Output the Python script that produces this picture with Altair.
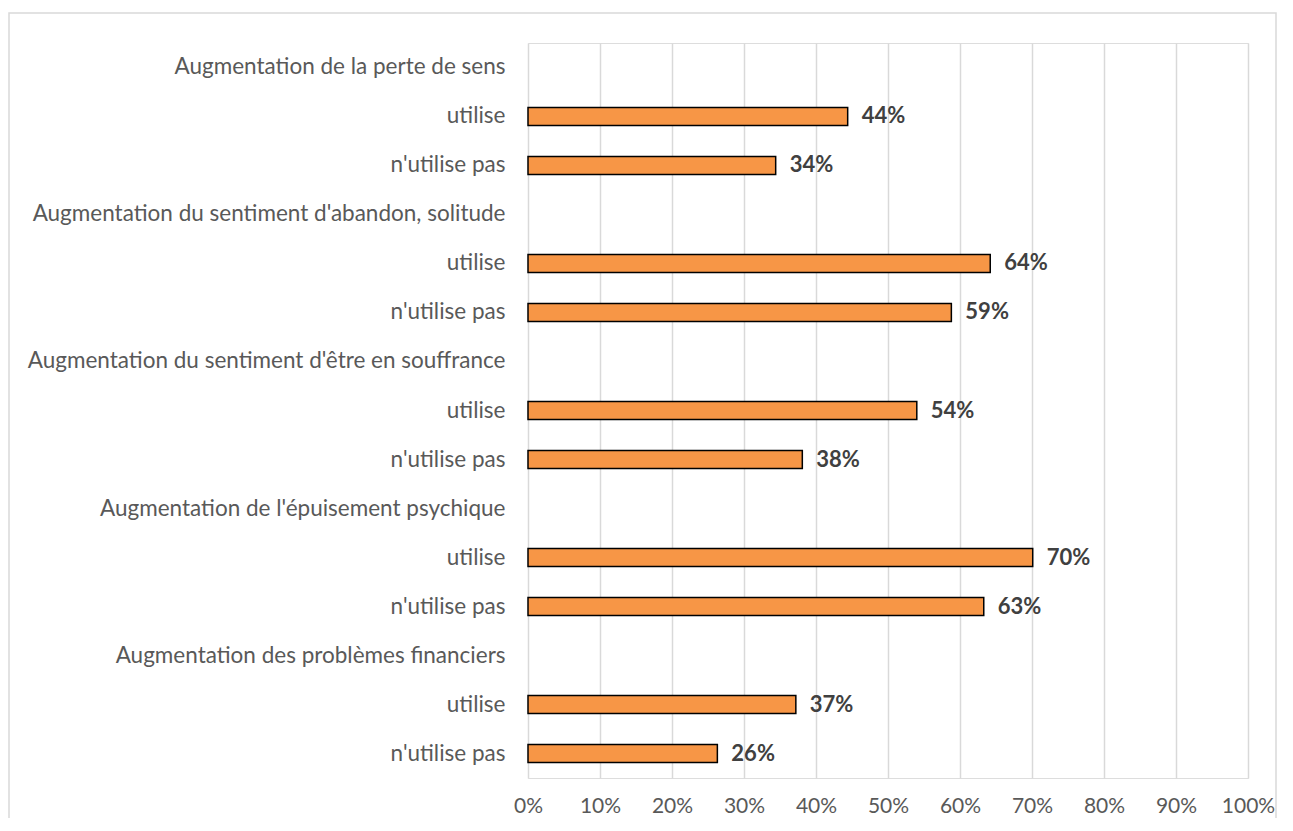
import altair as alt
import pandas as pd

groups = [
    "Augmentation de la perte de sens",
    "Augmentation du sentiment d'abandon, solitude",
    "Augmentation du sentiment d'être en souffrance",
    "Augmentation de l'épuisement psychique",
    "Augmentation des problèmes financiers",
]
subs = ["utilise", "n'utilise pas"]
utilise = [0.444, 0.642, 0.540, 0.701, 0.372]
n_utilise_pas = [0.344, 0.588, 0.381, 0.633, 0.263]
x_ticks = [0, 0.1, 0.2, 0.3, 0.4, 0.5, 0.6, 0.7, 0.8, 0.9, 1.0]

domain = []
rows = []
for i, g in enumerate(groups):
    domain.append(g)
    for s, vals in zip(subs, [utilise, n_utilise_pas]):
        key = f"{s}|{i}"
        domain.append(key)
        rows.append({"key": key, "value": vals[i]})
df = pd.DataFrame(rows)

FONT = "Lato"

y = alt.Y("key:N", scale=alt.Scale(domain=domain, paddingInner=0.633, paddingOuter=0.316),
          axis=alt.Axis(title=None, labelExpr="split(datum.label, '|')[0]", labelFontSize=22.5,
                        labelColor="#595959", labelFont=FONT, labelPadding=23, domain=False,
                        ticks=False, grid=False, labelLimit=700))
x = alt.X("value:Q", scale=alt.Scale(domain=[0, 1], nice=False),
          axis=alt.Axis(title=None, format=".0%", values=x_ticks, labelFontSize=21,
                        labelColor="#595959", labelFont=FONT, labelPadding=17, domain=False,
                        labelFlush=False, ticks=False, grid=True, gridColor="#d9d9d9",
                        gridWidth=1.5))

base = alt.Chart(df)
bars = base.mark_bar(color="#F79646", stroke="black", strokeWidth=1.5, size=18).encode(x=x, y=y)
labels = base.mark_text(align="left", baseline="middle", dx=14, fontSize=22, fontWeight="bold",
                        color="#404040", font=FONT).encode(
    x="value:Q", y=alt.Y("key:N", scale=alt.Scale(domain=domain)),
    text=alt.Text("value:Q", format=".0%"))
frame = alt.Chart(pd.DataFrame({"a": [0]})).mark_rect(
    filled=False, stroke="#d9d9d9", strokeWidth=1.5, clip=False).encode(
    x=alt.value(-519), x2=alt.value(748), y=alt.value(-30), y2=alt.value(800))

chart = alt.layer(frame, bars, labels).properties(
    width=720, height=735,
    autosize=alt.AutoSizeParams(type="none"),
    padding={"left": 520, "top": 35, "right": 30, "bottom": 40},
).configure_view(stroke=None).configure(background="white")

chart.save("out.html", embed_options={"renderer": "svg", "actions": False})
